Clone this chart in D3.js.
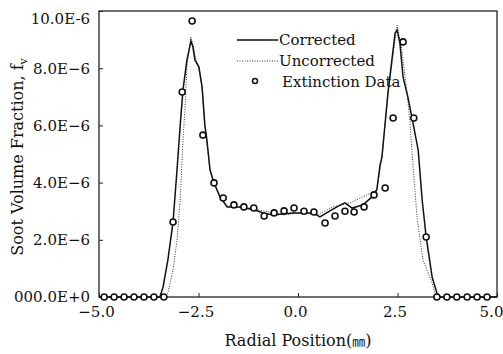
<!DOCTYPE html>
<html>
<head>
<meta charset="utf-8">
<script src="https://cdn.jsdelivr.net/npm/d3@7"></script>
<style>
  body { margin: 0; background: #fff; }
  text { font-family: "DejaVu Serif", "Liberation Serif", serif; fill: #111; }
</style>
</head>
<body>
<div id="chart"></div>
<script>
// Corrected profile (solid), [radial position mm, fv in 1E-6]
const corrected = [
  [-5.0, 0], [-3.52, 0], [-3.47, 0], [-3.39, 0.35], [-3.27, 1.29], [-3.14, 2.62],
  [-3.04, 4.44], [-2.96, 6.0], [-2.89, 7.24], [-2.79, 8.29], [-2.69, 8.95],
  [-2.64, 8.74], [-2.59, 8.29], [-2.49, 8.04], [-2.41, 7.34], [-2.34, 6.0],
  [-2.29, 5.5], [-2.21, 4.44], [-2.11, 3.99], [-1.96, 3.5], [-1.78, 3.15],
  [-1.46, 3.15], [-1.08, 3.04], [-0.88, 2.94], [-0.63, 2.87], [-0.13, 2.94],
  [0.38, 2.94], [0.55, 2.8], [0.75, 2.97], [1.01, 3.18], [1.18, 3.29],
  [1.36, 3.11], [1.63, 3.22], [1.86, 3.5], [1.98, 3.74], [2.06, 4.6],
  [2.11, 4.9], [2.26, 7.13], [2.44, 9.23], [2.49, 9.34], [2.56, 8.88],
  [2.64, 7.69], [2.76, 7.0], [2.89, 6.08], [3.02, 5.14], [3.12, 3.39],
  [3.22, 2.1], [3.37, 0.7], [3.49, 0.14], [3.57, 0], [5.0, 0]
];

// Uncorrected profile (dotted)
const uncorrected = [
  [-5.0, 0], [-3.34, 0], [-3.27, 0.14], [-3.14, 0.94], [-3.04, 2.0], [-2.96, 3.39],
  [-2.89, 5.49], [-2.84, 6.54], [-2.79, 8.11], [-2.69, 9.09], [-2.64, 8.8],
  [-2.56, 8.29], [-2.49, 8.04], [-2.41, 7.34], [-2.34, 6.0], [-2.21, 4.44],
  [-2.11, 3.99], [-1.96, 3.5], [-1.78, 3.18], [-1.21, 3.11], [-0.38, 2.87],
  [0.05, 2.94], [0.48, 2.87], [0.88, 3.15], [1.31, 3.29], [1.73, 3.57],
  [1.98, 3.74], [2.11, 4.9], [2.26, 7.13], [2.49, 9.5], [2.61, 8.64],
  [2.74, 7.13], [2.81, 6.19], [2.86, 5.14], [2.99, 2.8], [3.14, 1.29],
  [3.37, 0.49], [3.44, 0.14], [3.52, 0], [5.0, 0]
];

// Extinction data (circles)
const extinction = [
  [-4.87, 0], [-4.62, 0], [-4.37, 0], [-4.12, 0], [-3.87, 0], [-3.62, 0], [-3.37, 0],
  [-3.14, 2.62], [-2.91, 7.17], [-2.66, 9.65], [-2.39, 5.66], [-2.11, 3.99],
  [-1.88, 3.46], [-1.61, 3.22], [-1.36, 3.15], [-1.11, 3.11], [-0.85, 2.83],
  [-0.6, 2.94], [-0.35, 3.01], [-0.1, 3.11], [0.15, 3.0], [0.40, 2.97],
  [0.68, 2.59], [0.93, 2.83], [1.18, 3.0], [1.41, 2.97], [1.66, 3.15],
  [1.91, 3.57], [2.19, 3.81], [2.39, 6.26], [2.64, 8.92], [2.91, 6.26],
  [3.22, 2.1], [3.49, 0], [3.74, 0], [3.99, 0], [4.25, 0], [4.5, 0], [4.75, 0]
];

const xTicks = [-5, -2.5, 0, 2.5, 5];
const xTickLabels = ["\u22125.0", "\u22122.5", "0.0", "2.5", "5.0"];
const yTicks = [0, 2, 4, 6, 8, 10];
const yTickLabels = ["000.0E+0", "2.0E\u22126", "4.0E\u22126", "6.0E\u22126", "8.0E\u22126", "10.0E-6"];
const legendLabels = ["Corrected", "Uncorrected", "Extinction Data"];

const width = 503;
const height = 354;
const margin = { top: 11, right: 6, bottom: 57, left: 99 };

const x = d3.scaleLinear().domain([-5, 5]).range([margin.left, width - margin.right]);
const y = d3.scaleLinear().domain([0, 10]).range([height - margin.bottom, margin.top]);

const svg = d3.select("#chart").append("svg")
  .attr("width", width)
  .attr("height", height);

// frame
svg.append("rect")
  .attr("x", x(-5)).attr("y", y(10))
  .attr("width", x(5) - x(-5)).attr("height", y(0) - y(10))
  .attr("fill", "none").attr("stroke", "#222").attr("stroke-width", 1.3);

// x axis (ticks inward)
const xAxis = d3.axisBottom(x).tickValues(xTicks).tickSize(-4).tickPadding(9)
  .tickFormat((d, i) => xTickLabels[i]);
svg.append("g")
  .attr("transform", `translate(0,${y(0)})`)
  .call(xAxis)
  .call(g => g.select(".domain").remove())
  .call(g => g.selectAll("line").attr("stroke", "#222"))
  .call(g => g.selectAll("text").attr("font-size", 15).attr("dx", d => d === 5 ? -6 : -3)
    .style("font-family", "DejaVu Serif").attr("fill", "#111"));

// y axis (ticks inward)
const yAxis = d3.axisLeft(y).tickValues(yTicks).tickSize(-4).tickPadding(9)
  .tickFormat((d, i) => yTickLabels[i]);
svg.append("g")
  .attr("transform", `translate(${x(-5)},0)`)
  .call(yAxis)
  .call(g => g.select(".domain").remove())
  .call(g => g.selectAll("line").attr("stroke", "#222"))
  .call(g => g.selectAll("text").attr("font-size", 15)
    .style("font-family", "DejaVu Serif").attr("fill", "#111"))
  .call(g => g.selectAll("text").filter(d => d === 10).attr("dy", "0.8em"));

const line = d3.line().x(d => x(d[0])).y(d => y(d[1]));

svg.append("path")
  .datum(uncorrected)
  .attr("d", line)
  .attr("fill", "none")
  .attr("stroke", "#333")
  .attr("stroke-width", 1)
  .attr("stroke-dasharray", "1,1.5");

svg.append("path")
  .datum(corrected)
  .attr("d", line)
  .attr("fill", "none")
  .attr("stroke", "#111")
  .attr("stroke-width", 1.5);

svg.selectAll(".dot")
  .data(extinction)
  .enter().append("circle")
  .attr("class", "dot")
  .attr("cx", d => x(d[0]))
  .attr("cy", d => y(d[1]))
  .attr("r", 3)
  .attr("fill", "#fff")
  .attr("stroke", "#111")
  .attr("stroke-width", 1.6);

// legend
const legend = svg.append("g").attr("transform", "translate(237,40)");
legend.append("line").attr("x1", 0).attr("x2", 41).attr("y1", 0).attr("y2", 0)
  .attr("stroke", "#111").attr("stroke-width", 1.3);
legend.append("line").attr("x1", 0).attr("x2", 41).attr("y1", 21).attr("y2", 21)
  .attr("stroke", "#333").attr("stroke-width", 1).attr("stroke-dasharray", "1,1.5");
legend.append("circle").attr("cx", 18).attr("cy", 41).attr("r", 2.5)
  .attr("fill", "#fff").attr("stroke", "#111").attr("stroke-width", 1.5);
legend.selectAll(".leg-text")
  .data(legendLabels)
  .enter().append("text")
  .attr("class", "leg-text")
  .attr("x", (d, i) => i === 2 ? 45 : 42)
  .attr("y", (d, i) => i * 21 + 5)
  .attr("font-size", 15)
  .text(d => d);

// x-axis title
svg.append("text")
  .attr("x", 298)
  .attr("y", 346)
  .attr("text-anchor", "middle")
  .attr("font-size", 16)
  .html("Radial Position(<tspan style='font-family:\"Noto Sans CJK JP\"' font-size='13'>\u339C</tspan>)");

// y-axis title
const yTitle = svg.append("text")
  .attr("transform", "translate(23,157) rotate(-90)")
  .attr("text-anchor", "middle")
  .attr("font-size", 16);
yTitle.append("tspan").text("Soot Volume Fraction, f");
yTitle.append("tspan").attr("font-size", 11).attr("dy", 4).text("v");
</script>
</body>
</html>
